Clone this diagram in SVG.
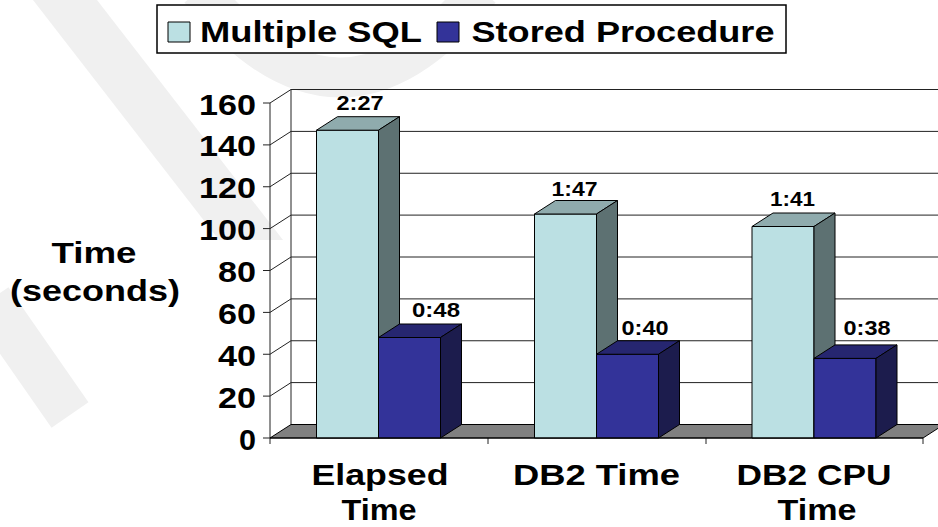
<svg xmlns="http://www.w3.org/2000/svg" width="938" height="527" viewBox="0 0 938 527">
<style>
text{font-family:"Liberation Sans",Arial,sans-serif;font-weight:bold;fill:#000}
.ax{font-size:30px;text-anchor:end}
.lbl{font-size:30px;text-anchor:middle}
.val{font-size:20px;text-anchor:middle}
.leg{font-size:30px}
.grid{stroke:#222;stroke-width:1;fill:none}
.edge{stroke:#000;stroke-width:1;stroke-linejoin:round}
.lf{fill:#BBE0E3}.lt{fill:#8FABAD}.ls{fill:#5D7172}
.df{fill:#333399}.dt{fill:#262670}.ds{fill:#1C1C4D}
.wm{fill:#f0f0f0;stroke:none}
</style>
<g id="watermark">
<polygon class="wm" points="33,0 97,0 283,240 219,240"/>
<path d="M 200 -10 Q 340 165 480 -10" fill="none" stroke="#f0f0f0" stroke-width="40"/>
<path d="M -10 300 L 70 415" fill="none" stroke="#f0f0f0" stroke-width="45"/>
</g>
<g id="legend">
<rect x="157" y="5" width="629" height="48" fill="#fff" stroke="#000" stroke-width="1.5"/>
<rect x="168" y="22" width="22" height="20" class="lf edge"/>
<text class="leg" x="200" y="42" textLength="222" lengthAdjust="spacingAndGlyphs">Multiple SQL</text>
<rect x="437" y="22" width="22" height="20" class="df edge"/>
<text class="leg" x="471.5" y="42" textLength="303" lengthAdjust="spacingAndGlyphs">Stored Procedure</text>
</g>
<g id="axes">
<g class="grid">
<line x1="270" y1="103" x2="270" y2="444"/>
<line x1="291" y1="89.5" x2="291" y2="424.5"/>
<path d="M270 396.1 L291 382.6 L944 382.6 M270 354.25 L291 340.75 L944 340.75 M270 312.4 L291 298.9 L944 298.9 M270 270.5 L291 257 L944 257 M270 228.6 L291 215.1 L944 215.1 M270 186.75 L291 173.25 L944 173.25 M270 144.9 L291 131.4 L944 131.4 M270 103 L291 89.5 L944 89.5"/>
<path d="M263 438 H270 M263 396.1 H270 M263 354.25 H270 M263 312.4 H270 M263 270.5 H270 M263 228.6 H270 M263 186.75 H270 M263 144.9 H270 M263 103 H270"/>
<path d="M488 438 V444 M706 438 V444 M923 438 V444"/>
</g>
<polygon points="270,438 291,424.5 944,424.5 923,438" fill="#808080" class="edge"/>
<text class="ax" x="256" y="449.5" textLength="17" lengthAdjust="spacingAndGlyphs">0</text>
<text class="ax" x="256" y="407.6" textLength="38" lengthAdjust="spacingAndGlyphs">20</text>
<text class="ax" x="256" y="365.75" textLength="38" lengthAdjust="spacingAndGlyphs">40</text>
<text class="ax" x="256" y="323.9" textLength="38" lengthAdjust="spacingAndGlyphs">60</text>
<text class="ax" x="256" y="282" textLength="38" lengthAdjust="spacingAndGlyphs">80</text>
<text class="ax" x="256" y="240.1" textLength="57" lengthAdjust="spacingAndGlyphs">100</text>
<text class="ax" x="256" y="198.25" textLength="57" lengthAdjust="spacingAndGlyphs">120</text>
<text class="ax" x="256" y="156.4" textLength="57" lengthAdjust="spacingAndGlyphs">140</text>
<text class="ax" x="256" y="114.5" textLength="57" lengthAdjust="spacingAndGlyphs">160</text>
<text class="lbl" x="94" y="262.5" textLength="85" lengthAdjust="spacingAndGlyphs">Time</text>
<text class="lbl" x="95" y="301" textLength="170" lengthAdjust="spacingAndGlyphs">(seconds)</text>
</g>
<g id="cat-elapsed">
<rect x="316.5" y="130.2" width="62" height="307.8" class="lf edge"/>
<polygon points="316.5,130.2 337.5,116.7 399.5,116.7 378.5,130.2" class="lt edge"/>
<polygon points="378.5,130.2 399.5,116.7 399.5,424.5 378.5,438" class="ls edge"/>
<rect x="378.5" y="337.5" width="62" height="100.5" class="df edge"/>
<polygon points="378.5,337.5 399.5,324 461.5,324 440.5,337.5" class="dt edge"/>
<polygon points="440.5,337.5 461.5,324 461.5,424.5 440.5,438" class="ds edge"/>
<text class="val" x="360" y="110" textLength="47" lengthAdjust="spacingAndGlyphs">2:27</text>
<text class="val" x="436" y="317" textLength="48" lengthAdjust="spacingAndGlyphs">0:48</text>
<text class="lbl" x="380" y="485" textLength="137" lengthAdjust="spacingAndGlyphs">Elapsed</text>
<text class="lbl" x="379" y="520" textLength="75" lengthAdjust="spacingAndGlyphs">Time</text>
</g>
<g id="cat-db2time">
<rect x="534.5" y="214" width="62" height="224" class="lf edge"/>
<polygon points="534.5,214 555.5,200.5 617.5,200.5 596.5,214" class="lt edge"/>
<polygon points="596.5,214 617.5,200.5 617.5,424.5 596.5,438" class="ls edge"/>
<rect x="596.5" y="354.25" width="62" height="83.75" class="df edge"/>
<polygon points="596.5,354.25 617.5,340.75 679.5,340.75 658.5,354.25" class="dt edge"/>
<polygon points="658.5,354.25 679.5,340.75 679.5,424.5 658.5,438" class="ds edge"/>
<text class="val" x="574.5" y="196" textLength="46" lengthAdjust="spacingAndGlyphs">1:47</text>
<text class="val" x="645" y="335" textLength="47" lengthAdjust="spacingAndGlyphs">0:40</text>
<text class="lbl" x="596.5" y="485" textLength="167" lengthAdjust="spacingAndGlyphs">DB2 Time</text>
</g>
<g id="cat-db2cpu">
<rect x="752" y="226.5" width="62" height="211.5" class="lf edge"/>
<polygon points="752,226.5 773,213 835,213 814,226.5" class="lt edge"/>
<polygon points="814,226.5 835,213 835,424.5 814,438" class="ls edge"/>
<rect x="814" y="358.4" width="62" height="79.6" class="df edge"/>
<polygon points="814,358.4 835,344.9 897,344.9 876,358.4" class="dt edge"/>
<polygon points="876,358.4 897,344.9 897,424.5 876,438" class="ds edge"/>
<text class="val" x="792.5" y="205.5" textLength="45" lengthAdjust="spacingAndGlyphs">1:41</text>
<text class="val" x="867" y="335" textLength="47" lengthAdjust="spacingAndGlyphs">0:38</text>
<text class="lbl" x="814" y="485" textLength="155" lengthAdjust="spacingAndGlyphs">DB2 CPU</text>
<text class="lbl" x="817" y="520" textLength="79" lengthAdjust="spacingAndGlyphs">Time</text>
</g>
<g id="baseline">
<line x1="270" y1="438" x2="923" y2="438" stroke="#000" stroke-width="1"/>
</g>
</svg>
